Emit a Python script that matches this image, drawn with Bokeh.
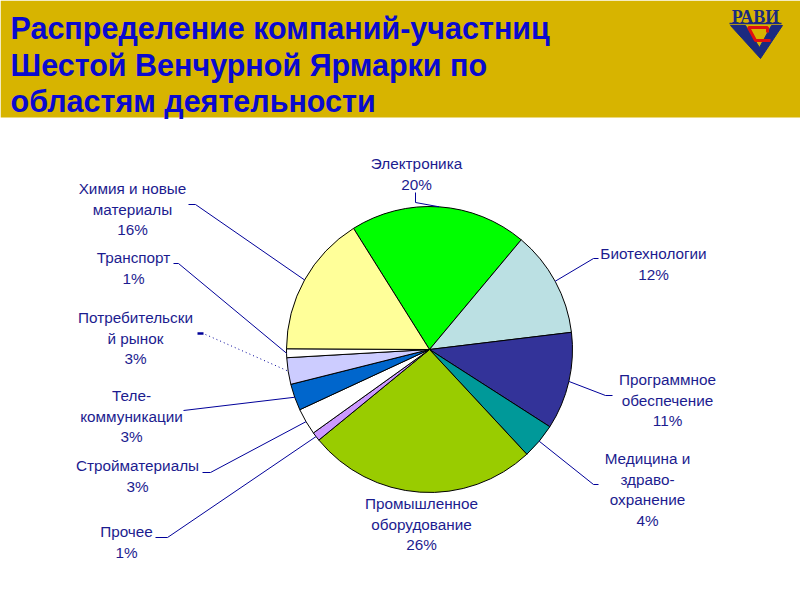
import math
from bokeh.plotting import figure
from bokeh.models import Range1d
from bokeh.core.properties import value
from bokeh.embed import file_html
from bokeh.resources import INLINE

# ---------------- data ----------------
categories = ["Электроника", "Биотехнологии", "Программное обеспечение",
              "Медицина и здравоохранение", "Промышленное оборудование", "Прочее",
              "Стройматериалы", "Телекоммуникации", "Потребительский рынок",
              "Транспорт", "Химия и новые материалы"]
shares = [20, 12, 11, 4, 26, 1, 3, 3, 3, 1, 16]
label_text = [["Электроника"], ["Биотехнологии"], ["Программное", "обеспечение"],
              ["Медицина и", "здраво-", "охранение"], ["Промышленное", "оборудование"],
              ["Прочее"], ["Стройматериалы"], ["Теле-", "коммуникации"],
              ["Потребительски", "й рынок"], ["Транспорт"], ["Химия и новые", "материалы"]]
colors = ["#00FF00", "#BBE0E3", "#333399", "#009999", "#99CC00", "#CC99FF",
          "#FFFFFF", "#0066CC", "#CCCCFF", "#FFFFFF", "#FFFF99"]
title_lines = ["Распределение компаний-участниц", "Шестой Венчурной Ярмарки по",
               "областям деятельности"]

# ---------------- layout ----------------
W, H = 800, 584
def Y(sy):  # screen y (reference pixels) -> data y
    return 600 - sy

p = figure(width=W, height=H, output_backend="svg", toolbar_location=None,
           x_range=Range1d(0, W), y_range=Range1d(600 - H, 600), min_border=0)
p.axis.visible = False
p.grid.visible = False
p.outline_line_color = None
p.background_fill_color = "white"
p.border_fill_color = "white"

# header band
p.quad(left=[0], right=[W], top=[Y(0)], bottom=[Y(117)], fill_color="#D7B400", line_color=None)
FONT = value("Liberation Sans")
ty = [27, 64, 100]
p.text(x=[10] * 3, y=[Y(v) for v in ty], text=title_lines, text_font=FONT,
       text_font_style="bold", text_font_size="30.5px", text_color="#0A0ACF",
       text_baseline="middle", text_align="left")

# logo
p.text(x=[755], y=[Y(16)], text=["РАВИ"], text_font=value("Liberation Serif"),
       text_font_style="bold", text_font_size="18px", text_color="#1B2A80",
       text_baseline="middle", text_align="center")
p.line(x=[729, 781], y=[Y(23), Y(23)], line_color="#1B2A80", line_width=1.5)
p.patch(x=[730, 745, 759, 771, 782, 760], y=[Y(25), Y(25), Y(47), Y(25), Y(25), Y(58)],
        fill_color="#1B2A80", line_color="#1B2A80")
p.line(x=[767, 767, 748, 755, 770], y=[Y(32), Y(27), Y(27), Y(40), Y(40)],
       line_color="#E01010", line_width=3)

# pie
cx, cy, R = 429, Y(349), 143
start = 122.1
total = sum(shares)
starts, ends, mids = [], [], []
acc = 0.0
for s in shares:
    a0 = start - acc / total * 360
    a1 = a0 - s / total * 360
    acc += s
    starts.append(math.radians(a1))
    ends.append(math.radians(a0))
    mids.append(math.radians((a0 + a1) / 2))
p.wedge(x=[cx] * len(shares), y=[cy] * len(shares), radius=R,
        start_angle=starts, end_angle=ends, fill_color=colors,
        line_color="black", line_width=1)

# label placement: (center x, first line y) and leader elbow points
label_pos = [(416, 163), (653, 253), (667, 379), (647, 458), (421, 503), (126, 531),
             (137, 465), (131, 395), (135, 317), (133, 257), (132, 188)]
elbows = [[(415, 192), (415, 202)], [(598, 258), (593, 258)], [(612, 395), (605, 395)],
          [(598, 484), (593, 484)], None, [(155, 537), (167, 537)],
          [(202, 472), (210, 472)], [(183, 410)], None, [(173, 263), (178, 263)],
          [(188, 204), (195, 204)]]
LINE_H = 20.5
for i, cat in enumerate(categories):
    lines = label_text[i] + [f"{shares[i]}%"]
    lx, ly = label_pos[i]
    p.text(x=[lx] * len(lines), y=[Y(ly + k * LINE_H) for k in range(len(lines))],
           text=lines, text_font=FONT, text_font_size="15.3px", text_color="#1C1C8F",
           text_baseline="middle", text_align="center")
    ex = cx + R * math.cos(mids[i])
    ey = cy + R * math.sin(mids[i])
    if elbows[i] is not None:
        xs = [pt[0] for pt in elbows[i]] + [ex]
        ys = [Y(pt[1]) for pt in elbows[i]] + [ey]
        p.line(x=xs, y=ys, line_color="#000099", line_width=1)
    elif cat == "Потребительский рынок":
        p.line(x=[197, 203], y=[Y(333), Y(333)], line_color="#000099", line_width=2.5)
        p.line(x=[205, ex], y=[Y(334), ey], line_color="#000099", line_width=1,
               line_dash="1 3")

open("out.html", "w").write(file_html(p, INLINE))
